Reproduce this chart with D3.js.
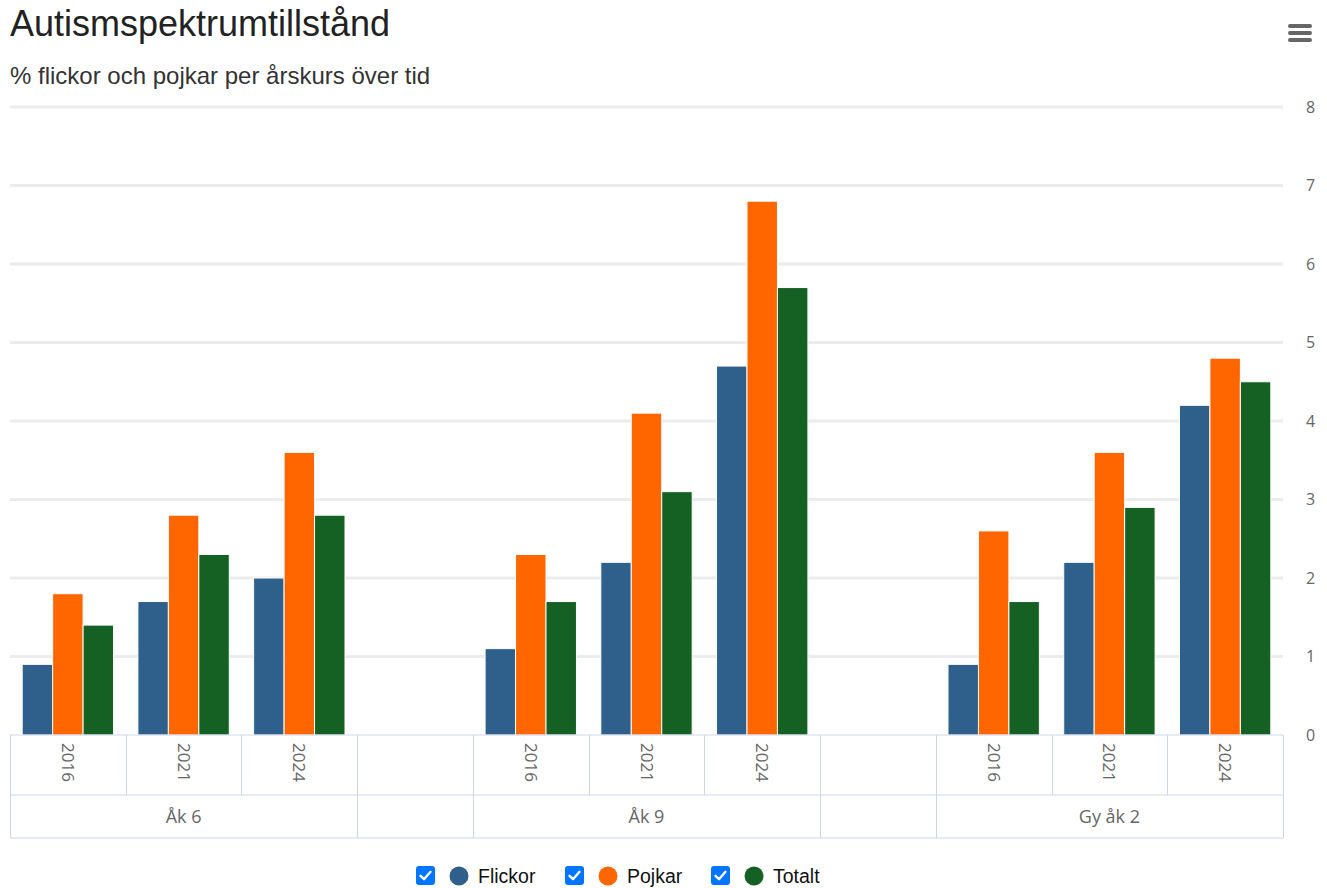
<!DOCTYPE html>
<html><head><meta charset="utf-8">
<script src="https://cdn.jsdelivr.net/npm/d3@7/dist/d3.min.js"></script>
<style>
html,body{margin:0;padding:0;background:#fff;}
svg{display:block;}
</style></head><body>
<div id="chart"></div>
<script>
const title = "Autismspektrumtillstånd";
const subtitle = "% flickor och pojkar per årskurs över tid";
const grades = ["Åk 6", "Åk 9", "Gy åk 2"];
const years = ["2016", "2021", "2024"];
const seriesNames = ["Flickor", "Pojkar", "Totalt"];
const seriesColors = ["#2f5f8b", "#ff6600", "#156123"];
// values ordered: Åk 6 (2016,2021,2024), Åk 9 (...), Gy åk 2 (...)
const flickor = [0.9, 1.7, 2.0, 1.1, 2.2, 4.7, 0.9, 2.2, 4.2];
const pojkar  = [1.8, 2.8, 3.6, 2.3, 4.1, 6.8, 2.6, 3.6, 4.8];
const totalt  = [1.4, 2.3, 2.8, 1.7, 3.1, 5.7, 1.7, 2.9, 4.5];
const yTicks = [0, 1, 2, 3, 4, 5, 6, 7, 8];

const W = 1327, H = 888;
const plotL = 10, plotR = 1283, plotT = 107, plotB = 735;
const row1B = 795, row2B = 838;

const svg = d3.select("#chart").append("svg").attr("width", W).attr("height", H);

// build slots: each grade's years followed by an empty spacer slot
const slots = [];
grades.forEach((g, gi) => {
  years.forEach((y, yi) => slots.push({id: g + "|" + y, grade: g, year: y, idx: gi * years.length + yi}));
  if (gi < grades.length - 1) slots.push({id: "spacer" + gi, grade: "", year: "", idx: -1});
});

const x0 = d3.scaleBand().domain(slots.map(s => s.id)).range([plotL, plotR]).paddingInner(0).paddingOuter(0);
const x1 = d3.scaleBand().domain(seriesNames).range([0, x0.bandwidth()]).paddingInner(0).paddingOuter(0.4);
const y = d3.scaleLinear().domain([0, 8]).range([plotB, plotT]);

// gridlines
svg.append("g").selectAll("line").data(yTicks.filter(t => t > 0)).join("line")
  .attr("x1", plotL).attr("x2", plotR)
  .attr("y1", d => y(d)).attr("y2", d => y(d))
  .attr("stroke", "#ececec").attr("stroke-width", 3);

// y labels on right
svg.append("g").selectAll("text").data(yTicks).join("text")
  .attr("x", 1306).attr("y", d => y(d)).attr("dy", "0.35em")
  .attr("font-family", "Open Sans, sans-serif").attr("font-size", 16).attr("fill", "#666")
  .text(d => d);

// bars
const series = [flickor, pojkar, totalt];
const barData = [];
slots.filter(s => s.idx >= 0).forEach(s => {
  seriesNames.forEach((n, si) => barData.push({slot: s.id, name: n, color: seriesColors[si], v: series[si][s.idx]}));
});
svg.append("g").selectAll("rect").data(barData).join("rect")
  .attr("x", d => x0(d.slot) + x1(d.name))
  .attr("width", x1.bandwidth())
  .attr("y", d => y(d.v))
  .attr("height", d => plotB - y(d.v))
  .attr("fill", d => d.color)
  .attr("stroke", "#fff").attr("stroke-width", 1);

// grouped category axis
const axisColor = "#ccd6eb";
const ax = svg.append("g");
ax.append("line").attr("x1", plotL).attr("x2", plotR).attr("y1", plotB).attr("y2", plotB).attr("stroke", axisColor);
ax.append("line").attr("x1", plotL).attr("x2", plotR).attr("y1", row1B).attr("y2", row1B).attr("stroke", axisColor);
ax.append("line").attr("x1", plotL).attr("x2", plotR).attr("y1", row2B).attr("y2", row2B).attr("stroke", axisColor);
// top-row ticks at each slot edge
const edges = slots.map(s => x0(s.id)).concat([plotR]);
ax.selectAll("line.t").data(edges).join("line").attr("class", "t")
  .attr("x1", d => Math.round(d) + 0.5).attr("x2", d => Math.round(d) + 0.5)
  .attr("y1", plotB).attr("y2", row1B).attr("stroke", axisColor);
// bottom-row ticks at group edges
const groupEdges = [plotL];
slots.forEach((s, i) => {
  const next = slots[i + 1];
  if (!next || next.grade !== s.grade || s.grade === "") groupEdges.push(x0(s.id) + x0.bandwidth());
});
ax.selectAll("line.g").data(groupEdges).join("line").attr("class", "g")
  .attr("x1", d => Math.round(d) + 0.5).attr("x2", d => Math.round(d) + 0.5)
  .attr("y1", row1B).attr("y2", row2B).attr("stroke", axisColor);

// year labels rotated
ax.selectAll("text.y").data(slots.filter(s => s.year)).join("text").attr("class", "y")
  .attr("transform", d => `translate(${x0(d.id) + x0.bandwidth() / 2},${plotB + 8}) rotate(90)`)
  .attr("dy", "0.35em")
  .attr("font-family", "Open Sans, sans-serif").attr("font-size", 17).attr("fill", "#666")
  .text(d => d.year);

// grade labels
ax.selectAll("text.gr").data(grades).join("text").attr("class", "gr")
  .attr("x", g => {
    const ss = slots.filter(s => s.grade === g);
    return (x0(ss[0].id) + x0(ss[ss.length - 1].id) + x0.bandwidth()) / 2;
  })
  .attr("y", (row1B + row2B) / 2).attr("dy", "0.35em").attr("text-anchor", "middle")
  .attr("font-family", "Open Sans, sans-serif").attr("font-size", 18).attr("fill", "#666")
  .text(g => g);

// title
svg.append("text").attr("x", 10).attr("y", 36)
  .attr("font-family", "Liberation Sans, Arial, sans-serif").attr("font-size", 36).attr("fill", "#222")
  .text(title);
svg.append("text").attr("x", 10).attr("y", 84)
  .attr("font-family", "Liberation Sans, Arial, sans-serif").attr("font-size", 24).attr("fill", "#333")
  .text(subtitle);

// hamburger
svg.append("g").selectAll("line").data([0, 1, 2]).join("line")
  .attr("x1", 1290).attr("x2", 1310)
  .attr("y1", d => 26 + d * 7).attr("y2", d => 26 + d * 7)
  .attr("stroke", "#666").attr("stroke-width", 4).attr("stroke-linecap", "round");

// legend
const legendX = [416, 565, 711];
const lg = svg.append("g").selectAll("g").data(seriesNames).join("g")
  .attr("transform", (d, i) => `translate(${legendX[i]},866)`);
lg.append("rect").attr("width", 19).attr("height", 19).attr("rx", 3).attr("fill", "#0075ff");
lg.append("path").attr("d", "M4.5,9.8 L8,13.2 L14.5,5.8").attr("fill", "none")
  .attr("stroke", "#fff").attr("stroke-width", 2.4).attr("stroke-linecap", "round").attr("stroke-linejoin", "round");
lg.append("circle").attr("cx", 43).attr("cy", 10).attr("r", 9.5).attr("fill", (d, i) => seriesColors[i]);
lg.append("text").attr("x", 62).attr("y", 10).attr("dy", "0.35em")
  .attr("font-family", "Liberation Sans, Arial, sans-serif").attr("font-size", 19.5).attr("fill", "#111")
  .text(d => d);
</script>
</body></html>
